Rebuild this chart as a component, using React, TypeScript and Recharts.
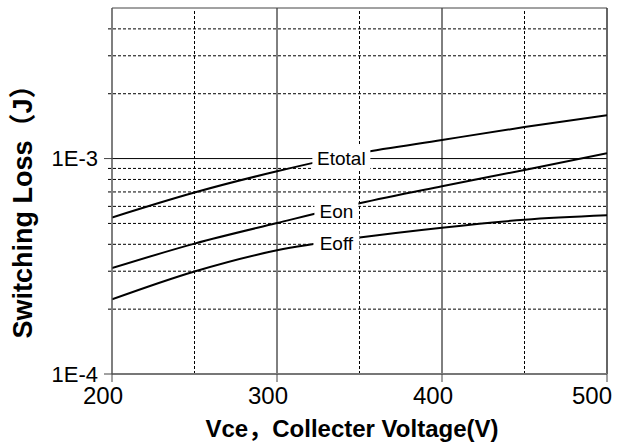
import React from "react";
import { LineChart, Line, XAxis, YAxis, ReferenceLine, ReferenceDot } from "recharts";

const volts = [200, 250, 300, 350, 400, 450, 500];
const eTotal = [5.33e-4, 6.96e-4, 8.73e-4, 1.06e-3, 1.22e-3, 1.4e-3, 1.59e-3];
const eOn = [3.1e-4, 4.03e-4, 5.02e-4, 6.2e-4, 7.44e-4, 8.86e-4, 1.058e-3];
const eOff = [2.22e-4, 2.99e-4, 3.75e-4, 4.3e-4, 4.78e-4, 5.2e-4, 5.45e-4];

const xTicks = [200, 300, 400, 500];
const yTicks = [1e-4, 1e-3];
const xMajorGrid = [300, 400];
const xMinorGrid = [250, 350, 450];
const yMajorGrid = [1e-3];
const yMinorGrid = [2e-4, 3e-4, 4e-4, 5e-4, 6e-4, 7e-4, 8e-4, 9e-4, 2e-3, 3e-3, 4e-3];

const curveLabels = [
  { text: "Etotal", v: 339, e: 1.01e-3, w: 54 },
  { text: "Eon", v: 336, e: 5.74e-4, w: 40 },
  { text: "Eoff", v: 336, e: 4.05e-4, w: 42 },
];

const data = volts.map((v, i) => ({ v, etotal: eTotal[i], eon: eOn[i], eoff: eOff[i] }));

const FONT = "'Liberation Sans', Arial, 'Noto Sans CJK SC', sans-serif";

const yFmt = (v: number) => (v >= 9e-4 ? "1E-3" : "1E-4");

const DashH = (p: any) => (
  <line x1={p.x1 - 4} y1={p.y1} x2={p.x2} y2={p.y2} stroke="#000" strokeWidth={1} strokeDasharray="3 2" />
);
const DashV = (p: any) => (
  <line x1={p.x1} y1={p.y1} x2={p.x2} y2={p.y2 + 3} stroke="#000" strokeWidth={1} strokeDasharray="3 2" />
);

export default function App() {
  return (
    <div style={{ position: "absolute", left: 0, top: 0, background: "#fff" }}>
      <LineChart
        width={619}
        height={448}
        data={data}
        margin={{ top: 8, right: 12, bottom: 0, left: 0 }}
        style={{ fontFamily: FONT }}
      >
        {yMinorGrid.map((y) => (
          <ReferenceLine key={"ym" + y} y={y} stroke="#000" shape={DashH} />
        ))}
        {xMinorGrid.map((x) => (
          <ReferenceLine key={"xm" + x} x={x} stroke="#000" shape={DashV} />
        ))}
        {yMajorGrid.map((y) => (
          <ReferenceLine key={"yM" + y} y={y} stroke="#000" strokeWidth={1} />
        ))}
        {xMajorGrid.map((x) => (
          <ReferenceLine key={"xM" + x} x={x} stroke="#000" strokeWidth={1} />
        ))}
        <ReferenceLine y={5e-3} stroke="#444" strokeWidth={1} />
        <ReferenceLine x={500} stroke="#333" strokeWidth={1.5} />
        <XAxis
          dataKey="v"
          type="number"
          domain={[200, 500]}
          ticks={xTicks}
          allowDataOverflow
          height={74}
          tickSize={8}
          tickMargin={5}
          axisLine={{ stroke: "#777", strokeWidth: 2 }}
          tickLine={{ stroke: "#444" }}
          tick={{ fill: "#000", fontSize: 24, fontFamily: FONT, dx: -9 }}
          label={(props: any) => (
            <text
              x={352}
              y={437}
              textAnchor="middle"
              fontSize={24}
              fontWeight="bold"
              fontFamily={FONT}
              fill="#000"
            >
              Vce，Collecter Voltage(V)
            </text>
          )}
        />
        <YAxis
          type="number"
          scale="log"
          domain={[1e-4, 5e-3]}
          ticks={yTicks}
          allowDataOverflow
          width={112}
          tickSize={8}
          tickMargin={6}
          tickFormatter={yFmt}
          axisLine={{ stroke: "#555", strokeWidth: 1.5 }}
          tickLine={{ stroke: "#444" }}
          tick={{ fill: "#000", fontSize: 22, fontFamily: FONT }}
          label={(props: any) => (
            <text
              x={0}
              y={0}
              transform="translate(32, 205) rotate(-90)"
              textAnchor="middle"
              fontSize={27}
              fontWeight="bold"
              fontFamily={FONT}
              fill="#000"
            >
              Switching Loss（J）
            </text>
          )}
        />
        <Line type="monotone" dataKey="etotal" stroke="#000" strokeWidth={2} dot={false} isAnimationActive={false} />
        <Line type="monotone" dataKey="eon" stroke="#000" strokeWidth={2} dot={false} isAnimationActive={false} />
        <Line type="monotone" dataKey="eoff" stroke="#000" strokeWidth={2} dot={false} isAnimationActive={false} />
        {curveLabels.map((c) => (
          <ReferenceDot
            key={c.text}
            x={c.v}
            y={c.e}
            r={0}
            shape={(p: any) => (
              <g>
                <rect x={p.cx - c.w / 2 - 2} y={p.cy - 12} width={c.w + 4} height={24} fill="#fff" />
                <text
                  x={p.cx}
                  y={p.cy + 7}
                  textAnchor="middle"
                  fontSize={19}
                  fontFamily={FONT}
                  fill="#000"
                >
                  {c.text}
                </text>
              </g>
            )}
          />
        ))}
      </LineChart>
    </div>
  );
}
